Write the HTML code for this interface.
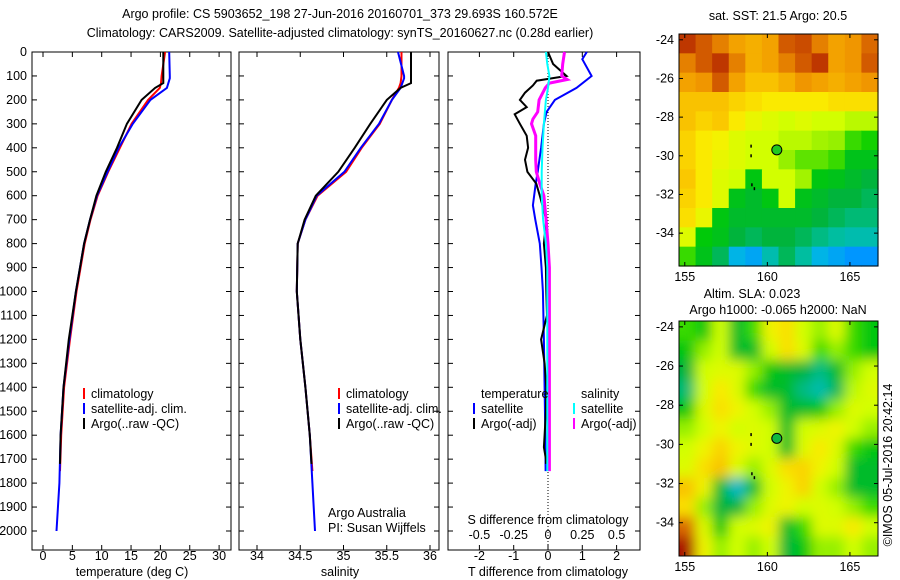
<!DOCTYPE html>
<html><head><meta charset="utf-8"><style>
body{margin:0;background:#fff;}
svg{display:block;font-family:"Liberation Sans",sans-serif;font-size:12.5px;}
</style></head><body>
<svg id="fig" width="900" height="580" viewBox="0 0 900 580">
<text x="340" y="18" text-anchor="middle">Argo profile: CS 5903652_198 27-Jun-2016 20160701_373 29.693S 160.572E</text>
<text x="340" y="37" text-anchor="middle">Climatology: CARS2009. Satellite-adjusted climatology: synTS_20160627.nc (0.28d earlier)</text>
<defs>
<filter id="blur" x="0" y="0" width="1" height="1"><feGaussianBlur stdDeviation="6"/></filter>
<clipPath id="clip2"><rect x="679" y="321" width="199" height="235"/></clipPath>
</defs>
<g id="g"></g>
</svg>
<script>
// ---- data ----
const depthTicks=[0,100,200,300,400,500,600,700,800,900,1000,1100,1200,1300,1400,1500,1600,1700,1800,1900,2000];
const tempTicks=[0,5,10,15,20,25,30];
const salTicks=[34,34.5,35,35.5,36];
const tdiffTicks=[-2,-1,0,1,2];
const sdiffTicks=[-0.5,-0.25,0,0.25,0.5];
const climDepth=[0,100,130,150,200,300,400,500,600,700,800,1000,1200,1400,1600,1750];
const climTemp=[20.8,20.2,20.1,19.9,17.9,15.1,13.1,11.1,9.3,8.1,7.1,5.7,4.6,3.6,3.1,2.9];
const satDepth=[0,100,110,150,200,300,400,500,600,700,800,1000,1200,1400,1600,1800,2000];
const satTemp=[21.5,21.6,21.6,21.1,18.3,15.3,12.9,11.0,9.2,8.0,7.0,5.6,4.5,3.5,3.0,2.8,2.3];
const argoDepth=[0,130,150,200,300,400,500,600,700,800,1000,1200,1400,1600,1720];
const argoTemp=[20.5,20.5,19.1,16.8,14.3,12.6,10.7,9.1,8.0,7.0,5.6,4.4,3.5,3.0,2.9];
const climSal=[35.67,35.67,35.66,35.64,35.56,35.42,35.21,35.03,34.70,34.56,34.47,34.46,34.50,34.56,34.61,34.64];
const satSal=[35.63,35.70,35.70,35.66,35.56,35.41,35.20,35.01,34.69,34.56,34.47,34.46,34.50,34.56,34.61,34.64,34.67];
const argoSal=[35.78,35.78,35.66,35.50,35.31,35.13,34.94,34.68,34.55,34.47,34.46,34.50,34.56,34.61,34.63];
const dDepthTS=[0,30,100,150,200,250,300,400,500,550,640,700,800,900,1000,1200,1400,1600,1750];
const dTsat=[1.13,1.0,1.27,0.83,0.2,-0.04,-0.12,-0.2,-0.3,-0.36,-0.44,-0.37,-0.24,-0.19,-0.15,-0.12,-0.1,-0.08,-0.07];
const dDepthTA=[0,50,100,120,140,170,200,230,260,300,350,400,450,500,550,600,700,800,900,1000,1100,1200,1300,1400,1500,1600,1650,1700,1720];
const dTargo=[0,0.15,0.54,-0.33,-0.44,-0.67,-0.82,-0.62,-0.97,-0.82,-0.62,-0.58,-0.67,-0.6,-0.34,-0.24,-0.05,-0.12,-0.06,-0.05,-0.03,-0.2,-0.1,-0.05,-0.06,-0.1,-0.12,-0.06,-0.06];
const dDepthSS=[0,50,100,150,200,300,400,500,600,700,800,900,1000,1400,1750];
const dSsat=[-0.015,-0.005,0.01,0.0,-0.015,-0.03,-0.04,-0.046,-0.046,-0.036,-0.015,-0.005,-0.005,-0.005,-0.005];
const dDepthSA=[0,50,100,115,130,150,200,250,280,300,350,400,450,500,550,600,700,800,900,1000,1400,1750];
const dSargo=[0.12,0.107,0.1,0.14,0.01,-0.02,-0.065,-0.075,-0.11,-0.12,-0.09,-0.09,-0.09,-0.085,-0.06,-0.03,-0.014,0,0.01,0.01,0.01,0.01];
const sstGrid=[
[0.95,0.9,0.85,0.8,0.78,0.8,0.9,0.92,0.85,0.8,0.82,0.88],
[0.85,0.9,0.95,0.85,0.78,0.8,0.85,0.9,0.95,0.8,0.82,0.9],
[0.8,0.82,0.9,0.8,0.75,0.75,0.78,0.82,0.8,0.78,0.8,0.82],
[0.75,0.75,0.75,0.72,0.7,0.68,0.68,0.68,0.68,0.7,0.7,0.7],
[0.75,0.72,0.74,0.68,0.64,0.62,0.6,0.62,0.6,0.6,0.58,0.58],
[0.72,0.68,0.66,0.62,0.6,0.6,0.58,0.58,0.56,0.55,0.5,0.48],
[0.72,0.68,0.64,0.62,0.6,0.6,0.55,0.52,0.52,0.5,0.44,0.44],
[0.74,0.68,0.62,0.6,0.45,0.6,0.6,0.56,0.45,0.44,0.42,0.4],
[0.72,0.68,0.62,0.44,0.42,0.45,0.6,0.44,0.42,0.4,0.4,0.38],
[0.7,0.64,0.45,0.42,0.42,0.42,0.42,0.42,0.4,0.38,0.36,0.36],
[0.62,0.46,0.44,0.4,0.38,0.4,0.4,0.38,0.35,0.33,0.32,0.32],
[0.5,0.44,0.38,0.28,0.24,0.32,0.38,0.33,0.28,0.24,0.2,0.2]];
const slaGrid=[
[0.5,0.45,0.6,0.42,0.5,0.65,0.7,0.6,0.55,0.62,0.5,0.45],
[0.45,0.55,0.6,0.42,0.42,0.6,0.7,0.62,0.5,0.55,0.5,0.45],
[0.4,0.6,0.62,0.62,0.55,0.45,0.42,0.4,0.35,0.42,0.55,0.6],
[0.36,0.6,0.68,0.62,0.5,0.42,0.42,0.35,0.32,0.38,0.58,0.62],
[0.45,0.62,0.7,0.65,0.6,0.55,0.42,0.42,0.45,0.55,0.62,0.6],
[0.55,0.6,0.65,0.6,0.62,0.6,0.42,0.6,0.62,0.65,0.6,0.55],
[0.6,0.65,0.72,0.65,0.62,0.6,0.42,0.62,0.68,0.62,0.5,0.45],
[0.62,0.7,0.75,0.62,0.55,0.62,0.7,0.72,0.65,0.6,0.42,0.42],
[0.75,0.65,0.42,0.3,0.42,0.6,0.65,0.72,0.6,0.55,0.42,0.42],
[0.7,0.55,0.4,0.4,0.55,0.62,0.65,0.6,0.62,0.6,0.55,0.5],
[0.88,0.62,0.45,0.6,0.62,0.65,0.42,0.5,0.62,0.62,0.68,0.6],
[1.0,0.65,0.55,0.6,0.55,0.6,0.4,0.45,0.55,0.55,0.6,0.55]];
const lonTicks=[155,160,165];
const latTicks=[-24,-26,-28,-30,-32,-34];
const argoLon=160.572, argoLat=-29.693;
const prevLon=[159.0,159.0,159.05,159.2], prevLat=[-29.5,-30.0,-31.5,-31.7];

// ---- helpers ----
const NS='http://www.w3.org/2000/svg';
const G=document.getElementById('g');
function mk(tag,attrs,parent){const e=document.createElementNS(NS,tag);for(const k in attrs)e.setAttribute(k,attrs[k]);(parent||G).appendChild(e);return e;}
const yD=d=>52+d*0.2395;
const xT=t=>43+t*5.87;
const xS=s=>257+(s-34)*86.5;
const xDT=t=>548+t*34.3;
const xDS=s=>548+s*137.2;
const panels=[[32,231],[239,439],[448,640]];
const P0=52,P1=550;

panels.forEach((p,i)=>{
  const r=mk('rect',{x:p[0],y:P0,width:p[1]-p[0],height:P1-P0,fill:'none',stroke:'#000','stroke-width':1});
  
  
  depthTicks.forEach(d=>{
    mk('line',{x1:p[0],x2:p[0]+5,y1:yD(d),y2:yD(d),stroke:'#000'});
    mk('line',{x1:p[1],x2:p[1]-5,y1:yD(d),y2:yD(d),stroke:'#000'});
  });
});
depthTicks.forEach(d=>{
  const t=mk('text',{x:27,y:yD(d)+4,'text-anchor':'end'});t.textContent=d;
  
  
});
function xticks(vals,fx,y0,y1,ly,fmt){vals.forEach(v=>{const x=fx(v);
  mk('line',{x1:x,x2:x,y1:y0,y2:y0+5,stroke:'#000'});mk('line',{x1:x,x2:x,y1:y1,y2:y1-5,stroke:'#000'});
  if(ly){const t=mk('text',{x:x,y:ly,'text-anchor':'middle'});t.textContent=fmt?fmt(v):v;
  
  }});}
xticks(tempTicks,xT,P0,P1,560);
xticks(salTicks,xS,P0,P1,560);
xticks(tdiffTicks,xDT,P0,P1,560);
sdiffTicks.forEach(v=>{const t=mk('text',{x:xDS(v),y:539,'text-anchor':'middle'});t.textContent=v;
  
  });
mk('line',{x1:548,x2:548,y1:P0,y2:P1,stroke:'#000','stroke-dasharray':'1,2'});

function line(depths,vals,fx,color,w,name){
  const pts=depths.map((d,i)=>fx(vals[i]).toFixed(1)+','+yD(d).toFixed(1)).join(' ');
  const e=mk('polyline',{points:pts,fill:'none',stroke:color,'stroke-width':w});
  
  
}
line(climDepth,climTemp,xT,'#f00',2,'temp-climatology-line');
line(satDepth,satTemp,xT,'#00f',2,'temp-satellite-line');
line(argoDepth,argoTemp,xT,'#000',2,'temp-argo-line');
line(climDepth,climSal,xS,'#f00',2,'sal-climatology-line');
line(satDepth,satSal,xS,'#00f',2,'sal-satellite-line');
line(argoDepth,argoSal,xS,'#000',2,'sal-argo-line');
line(dDepthTS,dTsat,xDT,'#00f',2,'tdiff-satellite-line');
line(dDepthTA,dTargo,xDT,'#000',2,'tdiff-argo-line');
line(dDepthSA,dSargo,xDS,'#f0f',3,'sdiff-argo-line');
line(dDepthSS,dSsat,xDS,'#0ff',2,'sdiff-satellite-line');

function txt(x,y,s,name,anchor){const t=mk('text',{x:x,y:y,'text-anchor':anchor||'start'});t.textContent=s;
  
  return t;}
function bar(x,y,c){mk('rect',{x:x,y:y-10,width:2,height:11,fill:c});}
[[83,91],[338,346]].forEach(([bx,tx],i)=>{
  bar(bx,398,'#f00');txt(tx,398,'climatology','legend-climatology');
  bar(bx,413,'#00f');txt(tx,413,'satellite-adj. clim.','legend-satellite');
  bar(bx,428,'#000');txt(tx,428,'Argo(..raw -QC)','legend-argo');
});
txt(481,398,'temperature','legend-temperature-heading');
bar(473,413,'#00f');txt(481,413,'satellite','legend-t-satellite');
bar(473,428,'#000');txt(481,428,'Argo(-adj)','legend-t-argo');
txt(581,398,'salinity','legend-salinity-heading');
bar(573,413,'#0ff');txt(581,413,'satellite','legend-s-satellite');
bar(573,428,'#f0f');txt(581,428,'Argo(-adj)','legend-s-argo');
txt(328,517,'Argo Australia','credit-argo-australia');
txt(328,532,'PI: Susan Wijffels','credit-pi');
txt(132,576,'temperature (deg C)','x-axis-title-temperature','middle');
txt(340,576,'salinity','x-axis-title-salinity','middle');
txt(548,524,'S difference from climatology','x-axis-title-sdiff','middle');
txt(548,576,'T difference from climatology','x-axis-title-tdiff','middle');

// ---- maps ----
const stops=[[0.2,[0,150,255]],[0.28,[0,180,230]],[0.33,[0,190,160]],[0.4,[0,180,60]],[0.47,[0,205,0]],[0.55,[150,240,0]],[0.6,[210,255,0]],[0.67,[250,240,0]],[0.74,[250,200,0]],[0.82,[240,150,0]],[0.9,[210,90,0]],[1.0,[170,20,0]]];
function cmap(v){if(v<=stops[0][0])return 'rgb('+stops[0][1]+')';
  for(let i=1;i<stops.length;i++){if(v<=stops[i][0]){const a=stops[i-1],b=stops[i],f=(v-a[0])/(b[0]-a[0]);
  return 'rgb('+a[1].map((c,k)=>Math.round(c+(b[1][k]-c)*f)).join(',')+')';}}
  return 'rgb('+stops[stops.length-1][1]+')';}
const MX0=679,MX1=878,LON0=154.65,LON1=166.7,LAT0=-23.7,LAT1=-35.7;
function drawMap(grid,y0,y1,smooth,name,markFill){
  const fx=l=>MX0+(l-LON0)/(LON1-LON0)*(MX1-MX0);
  const fy=l=>y0+(l-LAT0)/(LAT1-LAT0)*(y1-y0);
  const grp=mk('g',{});
  
  
  let inner=grp;
  if(smooth){grp.setAttribute('clip-path','url(#clip2)');inner=mk('g',{filter:'url(#blur)'},grp);}
  const rows=grid.length,cols=grid[0].length,cw=(MX1-MX0)/cols,ch=(y1-y0)/rows;
  const pad=smooth?1:0;
  for(let r=-pad;r<rows+pad;r++)for(let c=-pad;c<cols+pad;c++){
    const v=grid[Math.min(rows-1,Math.max(0,r))][Math.min(cols-1,Math.max(0,c))];
    mk('rect',{x:MX0+c*cw,y:y0+r*ch,width:cw+0.6,height:ch+0.6,fill:cmap(v)},inner);}
  mk('rect',{x:MX0,y:y0,width:MX1-MX0,height:y1-y0,fill:'none',stroke:'#000'});
  lonTicks.forEach(l=>{const x=fx(l);mk('line',{x1:x,x2:x,y1:y1,y2:y1-4,stroke:'#000'});mk('line',{x1:x,x2:x,y1:y0,y2:y0+4,stroke:'#000'});
    const t=mk('text',{x:x,y:y1+15,'text-anchor':'middle'});t.textContent=l;
    
    });
  latTicks.forEach(l=>{const y=fy(l);mk('line',{x1:MX0,x2:MX0+4,y1:y,y2:y,stroke:'#000'});mk('line',{x1:MX1,x2:MX1-4,y1:y,y2:y,stroke:'#000'});
    const t=mk('text',{x:MX0-5,y:y+4,'text-anchor':'end'});t.textContent=l;
    
    });
  prevLon.forEach((l,i)=>mk('rect',{x:fx(l)-0.5,y:fy(prevLat[i])-1.5,width:1.5,height:3,fill:'#000'}));
  const c=mk('circle',{cx:fx(argoLon),cy:fy(argoLat),r:5,fill:markFill,stroke:'#000'});
  
  
}
drawMap(sstGrid,34,266,false,'sst-map','#20c820');
drawMap(slaGrid,321,556,true,'sla-map','#10b840');
txt(778,20,'sat. SST: 21.5 Argo: 20.5','sst-map-title','middle');
txt(752,298,'Altim. SLA: 0.023','sla-map-title','middle');
txt(778,314,'Argo h1000: -0.065 h2000: NaN','sla-map-subtitle','middle');
const cr=txt(0,0,'©IMOS 05-Jul-2016 20:42:14','imos-timestamp','middle');
cr.setAttribute('transform','translate(892,465) rotate(-90)');
</script>
</body></html>
